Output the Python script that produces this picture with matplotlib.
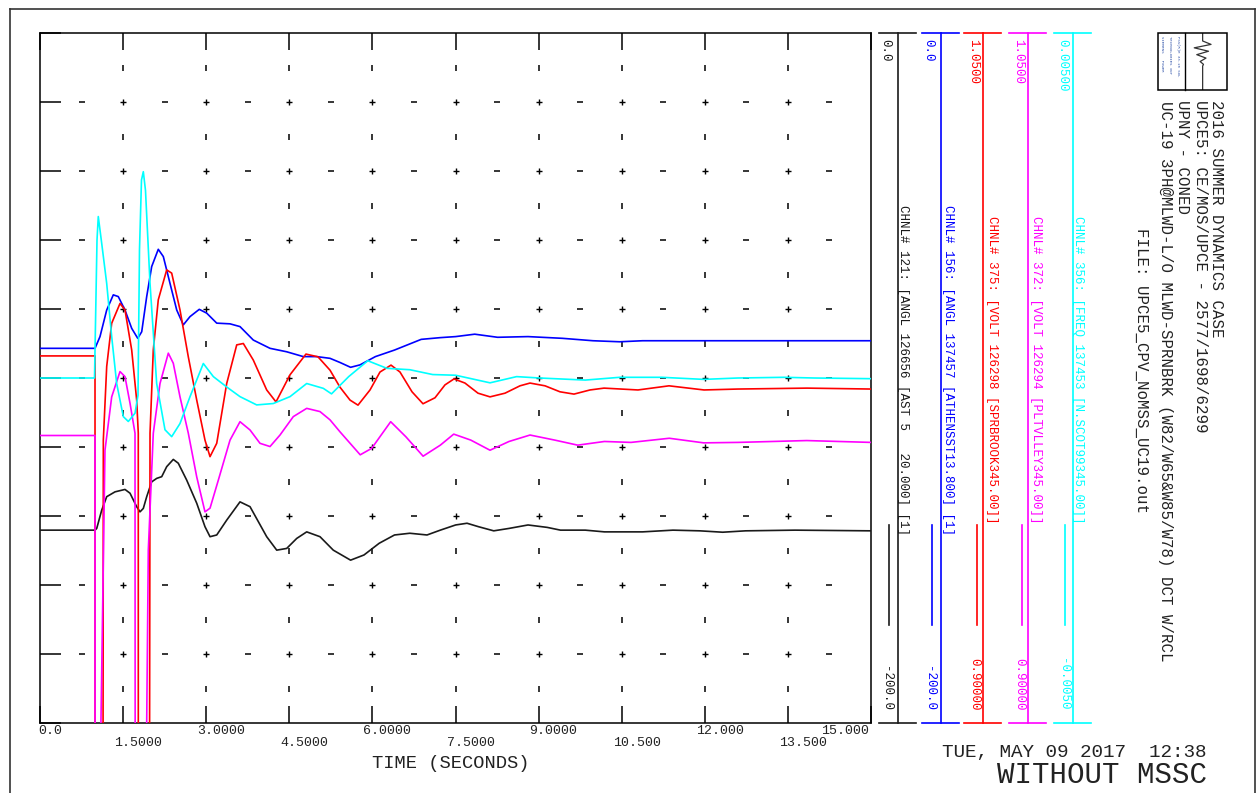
#PSS/E style dynamics plot: angle / voltage / frequency channels after a 3-phase fault

import numpy as np
import matplotlib
matplotlib.use('Agg')
import matplotlib.pyplot as plt
import matplotlib.transforms as mtransforms
from matplotlib.lines import Line2D
from matplotlib.patches import Rectangle

plt.rcParams['font.family'] = ['Liberation Mono', 'DejaVu Sans Mono']

# time axis
t_ticks = [0.0, 1.5, 3.0, 4.5, 6.0, 7.5, 9.0, 10.5, 12.0, 13.5, 15.0]
t_labels = ['0.0', '1.5000', '3.0000', '4.5000', '6.0000', '7.5000',
            '9.0000', '10.500', '12.000', '13.500', '15.000']

# CHNL 121 - ANGL AST 5 (deg)
t_ch121 = [0.0, 0.993, 1.024, 1.114, 1.204, 1.354, 1.534, 1.625, 1.745, 1.805,
           1.865, 1.926, 2.016, 2.106, 2.197, 2.287, 2.406, 2.496, 2.648, 2.829,
           2.978, 3.069, 3.190, 3.370, 3.610, 3.791, 4.092, 4.273, 4.453, 4.634,
           4.814, 5.054, 5.294, 5.606, 5.848, 6.123, 6.399, 6.675, 6.986, 7.226,
           7.502, 7.708, 7.915, 8.190, 8.466, 8.809, 9.155, 9.395, 9.843, 10.188,
           10.877, 11.426, 11.910, 12.323, 12.736, 13.628, 15.0]
v_ch121 = [-144.1, -144.1, -143.6, -138.3, -134.4, -133.0, -132.3, -133.4, -137.3, -138.8,
           -137.8, -134.4, -130.1, -129.1, -128.6, -125.7, -123.6, -124.7, -129.6, -136.3,
           -143.1, -146.0, -145.5, -141.2, -135.9, -137.3, -146.0, -149.9, -149.4, -146.5,
           -144.6, -146.0, -149.9, -152.8, -151.3, -147.9, -145.5, -145.0, -145.5, -144.1,
           -142.6, -142.1, -143.1, -144.3, -143.6, -142.6, -143.3, -144.1, -144.1, -144.6,
           -144.6, -144.1, -144.3, -144.7, -144.3, -144.1, -144.3]

# CHNL 156 - ANGL ATHENSST (deg)
t_ch156 = [0.0, 0.993, 1.083, 1.204, 1.323, 1.413, 1.534, 1.655, 1.764, 1.836,
           1.926, 2.016, 2.135, 2.226, 2.347, 2.468, 2.587, 2.708, 2.875, 3.009,
           3.190, 3.430, 3.610, 3.850, 4.152, 4.453, 4.753, 4.995, 5.235, 5.415,
           5.606, 5.776, 6.054, 6.399, 6.881, 7.226, 7.502, 7.847, 8.260, 8.809,
           9.430, 9.982, 10.464, 10.877, 15.0]
v_ch156 = [-91.4, -91.4, -88.0, -80.3, -75.9, -76.4, -80.3, -85.6, -88.5, -86.6,
           -76.4, -67.7, -62.7, -64.8, -72.6, -80.3, -84.6, -82.2, -80.1, -81.2,
           -84.1, -84.3, -85.1, -89.0, -91.4, -92.4, -93.8, -93.8, -94.3, -95.5,
           -96.9, -96.2, -93.8, -91.9, -88.8, -88.3, -88.0, -87.3, -88.2, -88.0,
           -88.5, -89.2, -89.5, -89.2, -89.2]

# CHNL 375 - VOLT SPRBROOK (pu)
t_ch375 = [0.0, 0.993, 1.0, 1.09, 1.143, 1.204, 1.294, 1.444, 1.534, 1.655,
           1.745, 1.774, 1.78, 1.90, 1.986, 2.045, 2.135, 2.287, 2.377, 2.527,
           2.677, 2.829, 2.978, 3.069, 3.190, 3.370, 3.551, 3.670, 3.850, 4.092,
           4.260, 4.513, 4.801, 5.018, 5.235, 5.415, 5.596, 5.740, 5.957, 6.137,
           6.336, 6.498, 6.715, 6.913, 7.130, 7.310, 7.473, 7.671, 7.906, 8.123,
           8.394, 8.664, 8.845, 9.116, 9.386, 9.639, 9.928, 10.181, 10.794, 11.354,
           11.986, 12.599, 13.845, 15.0]
v_ch375 = [0.9798, 0.9798, 0.25, 0.25, 0.9615, 0.9775, 0.9869, 0.9912, 0.9898, 0.9811,
           0.9702, 0.9630, 0.25, 0.25, 0.9630, 0.9811, 0.9920, 0.9985, 0.9978, 0.9898,
           0.9796, 0.9702, 0.9615, 0.9579, 0.9608, 0.9738, 0.9822, 0.9825, 0.9789, 0.9724,
           0.9698, 0.9757, 0.9802, 0.9796, 0.9767, 0.9730, 0.9702, 0.9691, 0.9724, 0.9763,
           0.9778, 0.9763, 0.9720, 0.9694, 0.9707, 0.9735, 0.9748, 0.9739, 0.9717, 0.9709,
           0.9717, 0.9733, 0.9739, 0.9733, 0.9720, 0.9715, 0.9724, 0.9728, 0.9724, 0.9733,
           0.9724, 0.9726, 0.9728, 0.9726]

# CHNL 372 - VOLT PLTVLLEY (pu)
t_ch372 = [0.0, 0.993, 1.0, 1.09, 1.10, 1.173, 1.294, 1.444, 1.534, 1.625,
           1.715, 1.745, 1.915, 1.926, 1.955, 2.045, 2.166, 2.316, 2.406, 2.527,
           2.677, 2.829, 2.978, 3.069, 3.219, 3.430, 3.610, 3.791, 3.971, 4.152,
           4.332, 4.572, 4.814, 5.054, 5.235, 5.415, 5.780, 5.986, 6.330, 6.606,
           6.915, 7.226, 7.468, 7.776, 8.123, 8.466, 8.845, 9.292, 9.706, 10.188,
           10.668, 11.359, 11.980, 12.599, 13.839, 15.0]
v_ch372 = [0.9625, 0.9625, 0.25, 0.25, 0.90, 0.9593, 0.9709, 0.9764, 0.9753, 0.9695,
           0.9630, 0.25, 0.25, 0.90, 0.9376, 0.9630, 0.9738, 0.9804, 0.9782, 0.9709,
           0.9630, 0.9535, 0.9459, 0.9467, 0.9528, 0.9615, 0.9655, 0.9637, 0.9608, 0.9601,
           0.9626, 0.9666, 0.9684, 0.9677, 0.9659, 0.9633, 0.9583, 0.9597, 0.9655, 0.9622,
           0.9580, 0.9604, 0.9628, 0.9615, 0.9593, 0.9612, 0.9626, 0.9615, 0.9604, 0.9612,
           0.9610, 0.9619, 0.9609, 0.9610, 0.9614, 0.9610]

# CHNL 356 - FREQ N.SCOT99 (pu dev)
t_ch356 = [0.0, 0.984, 1.029, 1.052, 1.114, 1.204, 1.294, 1.384, 1.504, 1.594,
           1.715, 1.769, 1.796, 1.832, 1.865, 1.904, 1.986, 2.106, 2.256, 2.377,
           2.527, 2.708, 2.948, 3.129, 3.370, 3.610, 3.911, 4.211, 4.513, 4.814,
           5.114, 5.262, 5.572, 5.917, 6.262, 6.675, 7.088, 7.502, 8.123, 8.603,
           9.016, 9.843, 10.464, 11.222, 11.980, 12.599, 13.426, 13.977, 15.0]
v_ch356 = [0.0, 0.0, 0.00200, 0.00234, 0.00195, 0.00137, 0.00060, -0.00008, -0.00056, -0.00063,
           -0.00051, -0.00025, 0.00186, 0.00287, 0.00299, 0.00272, 0.00137, -0.00008, -0.00075, -0.00085,
           -0.00066, -0.00027, 0.00021, 0.00002, -0.00013, -0.00027, -0.00039, -0.00037, -0.00027, -0.00008,
           -0.00015, -0.00023, 0.00002, 0.00025, 0.00014, 0.00012, 0.00005, 0.00004, -0.00007, 0.00002,
           0.0, -0.00003, 0.00001, 0.00001, -0.00002, 0.0, 0.00001, 0.0, -0.00001]

chan_names = ['CHNL# 121: [ANGL 126656 [AST 5   20.000] [1]',
              'CHNL# 156: [ANGL 137457 [ATHENSST13.800] [1]',
              'CHNL# 375: [VOLT 126298 [SPRBROOK345.00]]',
              'CHNL# 372: [VOLT 126294 [PLTVLLEY345.00]]',
              'CHNL# 356: [FREQ 137453 [N.SCOT99345.00]]']
chan_top = ['0.0', '0.0', '1.0500', '1.0500', '0.00500']
chan_bot = ['-200.0', '-200.0', '0.90000', '0.90000', '-0.0050']
chan_lims = [(-200.0, 0.0), (-200.0, 0.0), (0.90, 1.05), (0.90, 1.05), (-0.005, 0.005)]
chan_t = [t_ch121, t_ch156, t_ch375, t_ch372, t_ch356]
chan_v = [v_ch121, v_ch156, v_ch375, v_ch372, v_ch356]
colors = ['#1a1a1a', '#0000ff', '#ff0000', '#ff00ff', '#00ffff']

title_lines = ['2016 SUMMER DYNAMICS CASE',
               'UPCE5: CE/MOS/UPCE - 2577/1698/6299',
               'UPNY - CONED',
               'UC-19 3PH@MLWD-L/O MLWD-SPRNBRK (W82/W65&W85/W78) DCT W/RCL',
               'FILE: UPCE5_CPV_NoMSS_UC19.out']

W, H = 1260, 793


def fx(x):
    return x / W


def fy(y):
    return 1 - y / H


fig = plt.figure(figsize=(12.6, 7.93), dpi=100)
txt = '#222222'

# outer page frame
for (x1, y1, x2, y2) in [(10, 9, 1255, 9), (10, 9, 10, 793), (1255, 9, 1255, 793)]:
    fig.add_artist(Line2D([fx(x1), fx(x2)], [fy(y1), fy(y2)], transform=fig.transFigure,
                          color='#333333', lw=1.2))

# main plot box
ax = fig.add_axes([fx(40), fy(723), 831 / W, 690 / H])
ax.set_xlim(0, 15)
ax.set_ylim(0, 10)
for s in ax.spines.values():
    s.set_linewidth(1.1)
    s.set_color('black')
ax.set_xticks(t_ticks)
ax.set_yticks(range(11))
ax.tick_params(axis='x', direction='in', length=12.5, width=1.1, top=True, bottom=True,
               labelbottom=False)
ax.tick_params(axis='y', direction='in', length=15, width=1.1, left=True, right=True,
               labelleft=False)

# grid marks: + at divisions, - at half time steps, ' at half divisions
gx = t_ticks[1:-1]
rows = np.arange(1, 10)
X, Y = np.meshgrid(gx, rows)
ax.plot(X.ravel(), Y.ravel(), '+', color='black', ms=4.5, mew=1.0, ls='none')
hx = np.array(t_ticks[:-1]) + 0.75
X, Y = np.meshgrid(hx, rows)
ax.plot(X.ravel(), Y.ravel(), '_', color='black', ms=4.5, mew=1.1, ls='none')
X, Y = np.meshgrid(gx, np.arange(0.5, 10, 1.0))
ax.plot(X.ravel(), Y.ravel(), '|', color='black', ms=3.8, mew=1.1, ls='none')

# channel traces, each on its own scale
for i in range(5):
    tw = ax.twinx()
    tw.set_ylim(*chan_lims[i])
    tw.axis('off')
    tw.plot(chan_t[i], chan_v[i], color=colors[i], lw=1.2)

# x tick labels (staggered)
base = mtransforms.blended_transform_factory(ax.transData, fig.transFigure)
for i, (t, lab) in enumerate(zip(t_ticks, t_labels)):
    y = 731 if i % 2 == 0 else 743
    if i == 0:
        ha, dx = 'left', -2
    elif i == len(t_ticks) - 1:
        ha, dx = 'right', -2
    else:
        ha, dx = 'left', -9
    tr = base + mtransforms.ScaledTranslation(dx / 100, 0, fig.dpi_scale_trans)
    ax.text(t, fy(y), lab, transform=tr, ha=ha, va='center', fontsize=9.5, color=txt)

fig.text(fx(451), fy(763), 'TIME (SECONDS)', ha='center', va='center', fontsize=13.5, color=txt)

# channel scale panel
line_x = [898, 941, 983, 1028, 1073]
scale_x = [885, 928, 973, 1018, 1062]
name_x = [903, 948, 992, 1036, 1078]
sample_x = [889, 932, 977, 1022, 1065]
for i in range(5):
    c = colors[i]
    lx = line_x[i]
    fig.add_artist(Line2D([fx(lx), fx(lx)], [fy(33), fy(723)], transform=fig.transFigure,
                          color=c, lw=1.2))
    for yy in (33, 723):
        fig.add_artist(Line2D([fx(lx - 19), fx(lx + 18)], [fy(yy), fy(yy)],
                              transform=fig.transFigure, color=c, lw=1.2))
    fig.add_artist(Line2D([fx(sample_x[i]), fx(sample_x[i])], [fy(525), fy(625)],
                          transform=fig.transFigure, color=c, lw=1.2))
    fig.text(fx(scale_x[i]), fy(39), chan_top[i], rotation=270, rotation_mode='anchor',
             ha='left', va='center', fontsize=9, color=c)
    fig.text(fx(scale_x[i] + 1), fy(711), chan_bot[i], rotation=270, rotation_mode='anchor',
             ha='right', va='center', fontsize=9, color=c)
    fig.text(fx(name_x[i]), fy(370), chan_names[i], rotation=270, rotation_mode='anchor',
             ha='center', va='center', fontsize=9, color=c)

# title block
title_x = [1217, 1200, 1183, 1166, 1142]
title_y = [100, 100, 100, 101, 228]
for s, x, y in zip(title_lines, title_x, title_y):
    fig.text(fx(x), fy(y), s, rotation=270, rotation_mode='anchor', ha='left', va='center',
             fontsize=11.3, color=txt)

# logo
fig.add_artist(Rectangle((fx(1158), fy(90)), 69 / W, 57 / H, transform=fig.transFigure,
                         fill=False, ec='black', lw=1.1))
fig.add_artist(Line2D([fx(1185), fx(1185)], [fy(33), fy(90)], transform=fig.transFigure,
                      color='black', lw=1.0))
lg = fig.add_axes([fx(1185), fy(90), 42 / W, 57 / H])
lg.axis('off')
lg.set_xlim(0, 1)
lg.set_ylim(0, 1)
lg.plot([0.42, 0.42, 0.62, 0.22, 0.56, 0.28, 0.50, 0.36, 0.44, 0.42, 0.42],
        [1.0, 0.86, 0.80, 0.74, 0.68, 0.62, 0.56, 0.50, 0.45, 0.42, 0.0],
        color='#333333', lw=0.9)
for x, s in zip([1162, 1170, 1178], ['SIEMENS   POWER', 'TECHNOLOGIES INT', 'PSS(R)E 33.10 SOL']):
    fig.text(fx(x), fy(36), s, rotation=270, rotation_mode='anchor', ha='left', va='center',
             fontsize=2.8, color='#3355aa')

# date and case tag
fig.text(fx(1207), fy(752), 'TUE, MAY 09 2017  12:38', ha='right', va='center',
         fontsize=13.9, color=txt)
fig.text(fx(1207), fy(775), 'WITHOUT MSSC', ha='right', va='center', fontsize=21, color=txt)

plt.savefig('out.png', dpi=100)
